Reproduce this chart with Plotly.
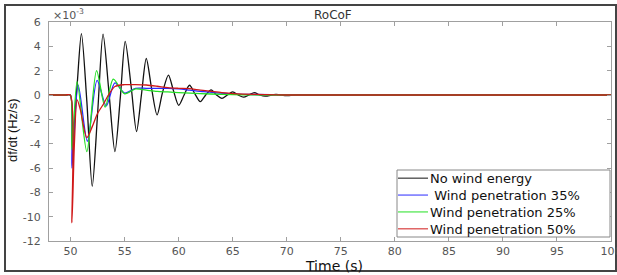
import plotly.graph_objects as go

# ---- data ----
t_nowind = [48, 49.5, 49.97, 50.15, 50.6, 51.0, 51.5, 52.0, 52.5, 53.0, 53.55, 54.1, 54.6, 55.05, 55.6, 56.1,
            56.55, 57.0, 57.5, 58.0, 58.5, 59.05, 59.5, 60.0, 60.5, 61.0, 61.5, 62.0, 62.5, 63.0, 63.5,
            64.0, 64.5, 65.0, 65.5, 66.0, 66.5, 67.0, 67.5, 68.0, 69.0, 70.0, 71.0, 72.0, 100]
v_nowind = [0, 0, 0, -4.2, 0.8, 5.05, -0.5, -7.5, -1.5, 5.0, 0.2, -4.65, -0.2, 4.4, 0.7, -3.0,
            0.0, 3.0, 0.5, -1.64, 0.2, 1.64, 0.4, -0.85, 0.0, 0.8, 0.1, -0.55, 0.0, 0.42, 0.0,
            -0.27, 0.0, 0.25, 0.0, -0.18, 0.0, 0.2, 0.0, -0.1, 0.05, -0.05, 0.03, 0, 0]

t_w35 = [48, 49.5, 49.97, 50.12, 50.7, 51.55, 52.45, 53.3, 54.1, 55.0, 56.0, 57.0, 58.0, 59.0, 60.0,
         61.0, 62.3, 63.5, 65.0, 67.0, 70.0, 100]
v_w35 = [0, 0, 0, -6.0, 0.8, -3.8, 1.2, -0.9, 1.0, 0.15, 0.55, 0.55, 0.55, 0.55, 0.5,
         0.4, 0.27, 0.18, 0.1, 0.04, 0, 0]

t_w25 = [48, 49.5, 49.97, 50.12, 50.6, 51.5, 52.4, 53.2, 53.95, 55.0, 56.0, 57.0, 58.0, 59.0, 60.0,
         62.0, 64.0, 66.0, 68.0, 100]
v_w25 = [0, 0, 0, -4.5, 1.1, -4.65, 2.0, -1.0, 1.3, 0.1, 0.5, 0.4, 0.3, 0.25, 0.2,
         0.12, 0.05, 0.02, 0, 0]

t_w50 = [48, 49.5, 49.97, 50.12, 50.35, 50.6, 50.9, 51.5, 52.0, 52.5, 53.0, 53.5, 54.1, 55.0, 56.0,
         57.0, 58.0, 59.0, 60.0, 61.0, 62.0, 63.0, 64.0, 65.0, 66.0, 68.0, 70.0, 100]
v_w50 = [0, 0, 0, -10.5, -4.0, -0.4, -1.2, -3.5, -2.6, -1.5, -0.8, 0.0, 0.7, 0.85, 0.85,
         0.82, 0.72, 0.6, 0.55, 0.52, 0.4, 0.3, 0.2, 0.12, 0.08, 0.03, 0, 0]

series_names = ["No wind energy", " Wind penetration 35%", "Wind penetration 25%", "Wind penetration 50%"]
x_ticks = [50, 55, 60, 65, 70, 75, 80, 85, 90, 95, 100]
y_ticks = [6, 4, 2, 0, -2, -4, -6, -8, -10, -12]

colors = ["#111111", "#2a2aff", "#22e022", "#d01818"]
xs = [t_nowind, t_w35, t_w25, t_w50]
ys = [v_nowind, v_w35, v_w25, v_w50]

FONT = "DejaVu Sans, Liberation Sans, Arial"

fig = go.Figure()
for name, x, y, c in zip(series_names, xs, ys, colors):
    fig.add_trace(go.Scatter(x=x, y=y, mode="lines", name=name, showlegend=False,
                             line=dict(color=c, width=1.3, shape="spline", smoothing=0.8)))

L, R, T, B = 49, 6, 22, 34
W, H = 617, 275
pw, ph = W - L - R, H - T - B

def px(xp):
    return (xp - L) / pw

def py(yp):
    return (H - B - yp) / ph

axis_common = dict(showgrid=False, zeroline=False, showline=True, linecolor="#a0a0a0", linewidth=1,
                   ticks="inside", ticklen=4, tickcolor="#a0a0a0", mirror="ticks",
                   ticklabeloverflow="allow", automargin=False,
                   tickfont=dict(family=FONT, size=11, color="#555555"))

shapes = [dict(type="rect", xref="paper", yref="paper", x0=px(5), x1=px(616), y0=py(271), y1=py(5),
               line=dict(color="#444444", width=2), fillcolor="rgba(0,0,0,0)", layer="below")]
annotations = [
    dict(text="RoCoF", xref="paper", yref="paper", x=px(333), y=py(15), xanchor="center", yanchor="middle",
         showarrow=False, font=dict(family=FONT, size=12, color="#333333")),
    dict(text="×10<sup>-3</sup>", xref="paper", yref="paper", x=px(51), y=py(14), xanchor="left",
         yanchor="middle", showarrow=False, font=dict(family=FONT, size=11, color="#555555")),
    dict(text="Time (s)", xref="paper", yref="paper", x=px(334), y=py(266), xanchor="center",
         yanchor="middle", showarrow=False, font=dict(family=FONT, size=14, color="#111111")),
    dict(text="df/dt (Hz/s)", xref="paper", yref="paper", x=px(12), y=py(130), xanchor="center",
         yanchor="middle", showarrow=False, textangle=-90,
         font=dict(family="Liberation Sans, Arial", size=13, color="#111111")),
]

# legend box (drawn as layout decoration)
leg_x0, leg_x1, leg_y0, leg_y1 = 397, 610, 170, 237
leg_font = 13
row_h = leg_font * 1.3
leg_mid = (leg_y0 + leg_y1) / 2
leg_rows = [leg_mid + (i - 1.5) * row_h for i in range(4)]
shapes.append(dict(type="rect", xref="paper", yref="paper", x0=px(leg_x0), x1=px(leg_x1),
                   y0=py(leg_y1), y1=py(leg_y0), line=dict(color="#888888", width=1),
                   fillcolor="white", layer="above"))
for c, ry in zip(colors, leg_rows):
    shapes.append(dict(type="line", xref="paper", yref="paper", x0=px(398), x1=px(428),
                       y0=py(ry), y1=py(ry), line=dict(color=c, width=1), layer="above"))
labels = [("\u00a0" + n[1:]) if n.startswith(" ") else n for n in series_names]
annotations.append(dict(text="<br>".join(labels), xref="paper", yref="paper", x=px(428), y=py(leg_mid),
                        xanchor="left", yanchor="middle", align="left", showarrow=False,
                        font=dict(family=FONT, size=leg_font, color="#111111")))

fig.update_layout(
    width=W, height=H,
    margin=dict(l=L, r=R, t=T, b=B),
    paper_bgcolor="white", plot_bgcolor="white",
    showlegend=False,
    xaxis=dict(range=[48, 100], tickvals=x_ticks, ticktext=[str(v) for v in x_ticks],
               ticklabelstandoff=0, **axis_common),
    yaxis=dict(range=[-12, 6], tickvals=y_ticks, ticktext=[str(v) for v in y_ticks],
               ticklabelstandoff=5, **axis_common),
    shapes=shapes,
    annotations=annotations,
)

fig.write_html("out.html", config={"displayModeBar": False},
               post_script="document.body.style.margin='0px';document.body.style.overflow='hidden';")
